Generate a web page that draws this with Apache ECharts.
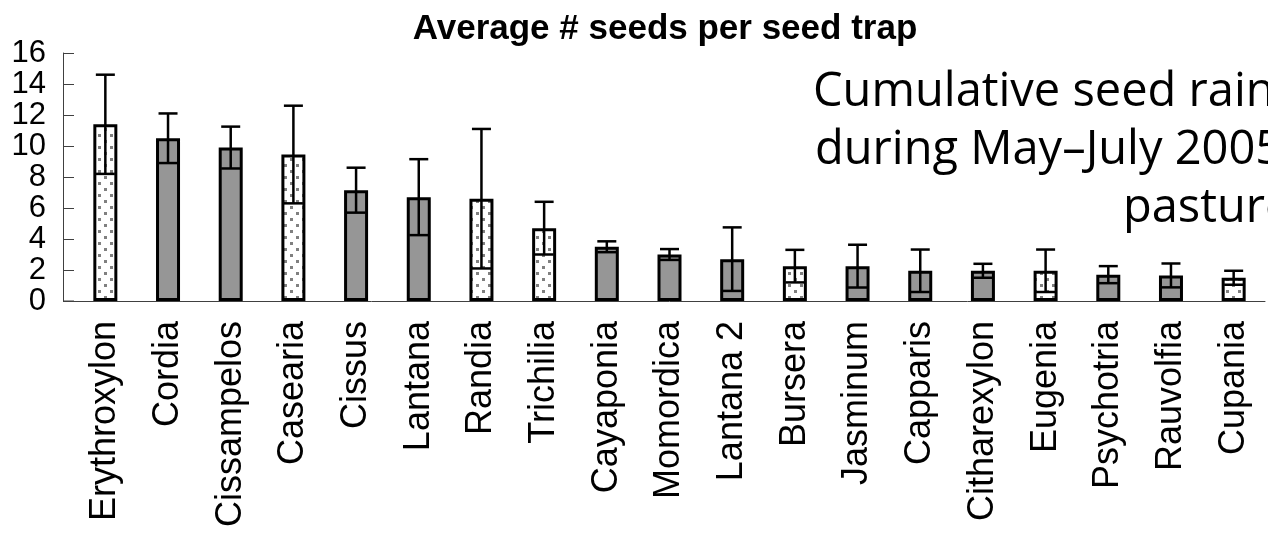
<!DOCTYPE html>
<html>
<head>
<meta charset="utf-8">
<title>Average # seeds per seed trap</title>
<script src="https://cdn.jsdelivr.net/npm/echarts@6/dist/echarts.min.js"></script>
<style>
  html, body { margin: 0; padding: 0; background: #fff; }
  #chart { width: 1268px; height: 535px; }
</style>
</head>
<body>
<div id="chart"></div>
<script>
// species on the category axis
const species = ['Erythroxylon', 'Cordia', 'Cissampelos', 'Casearia', 'Cissus', 'Lantana', 'Randia',
  'Trichilia', 'Cayaponia', 'Momordica', 'Lantana 2', 'Bursera', 'Jasminum', 'Capparis',
  'Citharexylon', 'Eugenia', 'Psychotria', 'Rauvolfia', 'Cupania'];
// mean seeds per trap
const means = [11.4, 10.5, 9.9, 9.45, 7.15, 6.7, 6.6, 4.7, 3.5, 3.0, 2.7, 2.25, 2.25, 1.95, 1.95, 1.95, 1.7, 1.65, 1.5];
// error bar half-length
const errors = [3.2, 1.6, 1.35, 3.15, 1.45, 2.45, 4.5, 1.7, 0.35, 0.35, 2.05, 1.05, 1.38, 1.37, 0.45, 1.37, 0.55, 0.77, 0.45];
// which bars are drawn dotted
const dotted = [true, false, false, true, false, false, true, true, false, false, false, true, false, false, false, true, false, false, true];
const yTicks = [0, 2, 4, 6, 8, 10, 12, 14, 16];

const chart = echarts.init(document.getElementById('chart'));

// dotted fill like the old Excel pattern
const tile = document.createElement('canvas');
tile.width = 12;
tile.height = 12;
const tctx = tile.getContext('2d');
tctx.fillStyle = '#fff';
tctx.fillRect(0, 0, 12, 12);
tctx.fillStyle = '#808080';
tctx.fillRect(2, 2, 3, 3);
tctx.fillRect(8, 8, 3, 3);
const dotFill = { image: tile, repeat: 'repeat' };

const barData = means.map((v, i) => ({
  value: v,
  itemStyle: { color: dotted[i] ? dotFill : '#969696' }
}));
const errData = means.map((v, i) => [i, v - errors[i], v + errors[i]]);

const font = '"Liberation Sans", Arial, sans-serif';
const noteFont = '"Comic Sans MS", "Open Sans", sans-serif';

const option = {
  backgroundColor: '#fff',
  animation: false,
  title: {
    text: 'Average # seeds per seed trap',
    left: 660,
    top: 7,
    textAlign: 'center',
    textStyle: { fontSize: 35, fontWeight: 'bold', color: '#000', fontFamily: font }
  },
  grid: { left: 74, right: 3, top: 53, bottom: 234 },
  xAxis: {
    type: 'category',
    data: species,
    axisLine: { lineStyle: { color: '#404040', width: 1 } },
    axisTick: { length: 12, lineStyle: { color: '#404040' } },
    axisLabel: {
      rotate: 90,
      interval: 0,
      margin: 20,
      fontSize: 36,
      color: '#000',
      fontFamily: font
    }
  },
  yAxis: {
    type: 'value',
    min: yTicks[0],
    max: yTicks[yTicks.length - 1],
    interval: 2,
    offset: 11,
    axisLine: { show: true, lineStyle: { color: '#404040', width: 1 } },
    axisTick: { show: true, inside: true, length: 11, lineStyle: { color: '#404040' } },
    splitLine: { show: false },
    axisLabel: { fontSize: 31, color: '#000', margin: 17, fontFamily: font }
  },
  graphic: [
    {
      type: 'line',
      shape: { x1: 63, y1: 301, x2: 74, y2: 301 },
      style: { stroke: '#404040', lineWidth: 1 }
    },
    {
      type: 'text', left: 813, top: 69,
      style: { text: 'Cumulative seed rain', fontSize: 47, fill: '#000', fontFamily: noteFont }
    },
    {
      type: 'text', left: 815, top: 127,
      style: { text: 'during May\u2013July 2005', fontSize: 47, fill: '#000', fontFamily: noteFont }
    },
    {
      type: 'text', left: 1123, top: 185,
      style: { text: 'pasture', fontSize: 47, fill: '#000', fontFamily: noteFont }
    }
  ],
  series: [
    {
      type: 'bar',
      data: barData,
      barWidth: 24,
      itemStyle: { borderColor: '#000', borderWidth: 3 }
    },
    {
      type: 'custom',
      data: errData,
      z: 5,
      renderItem: function (params, api) {
        const lo = api.coord([api.value(0), api.value(1)]);
        const hi = api.coord([api.value(0), api.value(2)]);
        const w = 9.5;
        const st = { stroke: '#000', lineWidth: 2.5 };
        return {
          type: 'group',
          children: [
            { type: 'line', shape: { x1: hi[0], y1: hi[1], x2: lo[0], y2: lo[1] }, style: st },
            { type: 'line', shape: { x1: hi[0] - w, y1: hi[1], x2: hi[0] + w, y2: hi[1] }, style: st },
            { type: 'line', shape: { x1: lo[0] - w, y1: lo[1], x2: lo[0] + w, y2: lo[1] }, style: st }
          ]
        };
      }
    }
  ]
};

chart.setOption(option);
</script>
</body>
</html>
